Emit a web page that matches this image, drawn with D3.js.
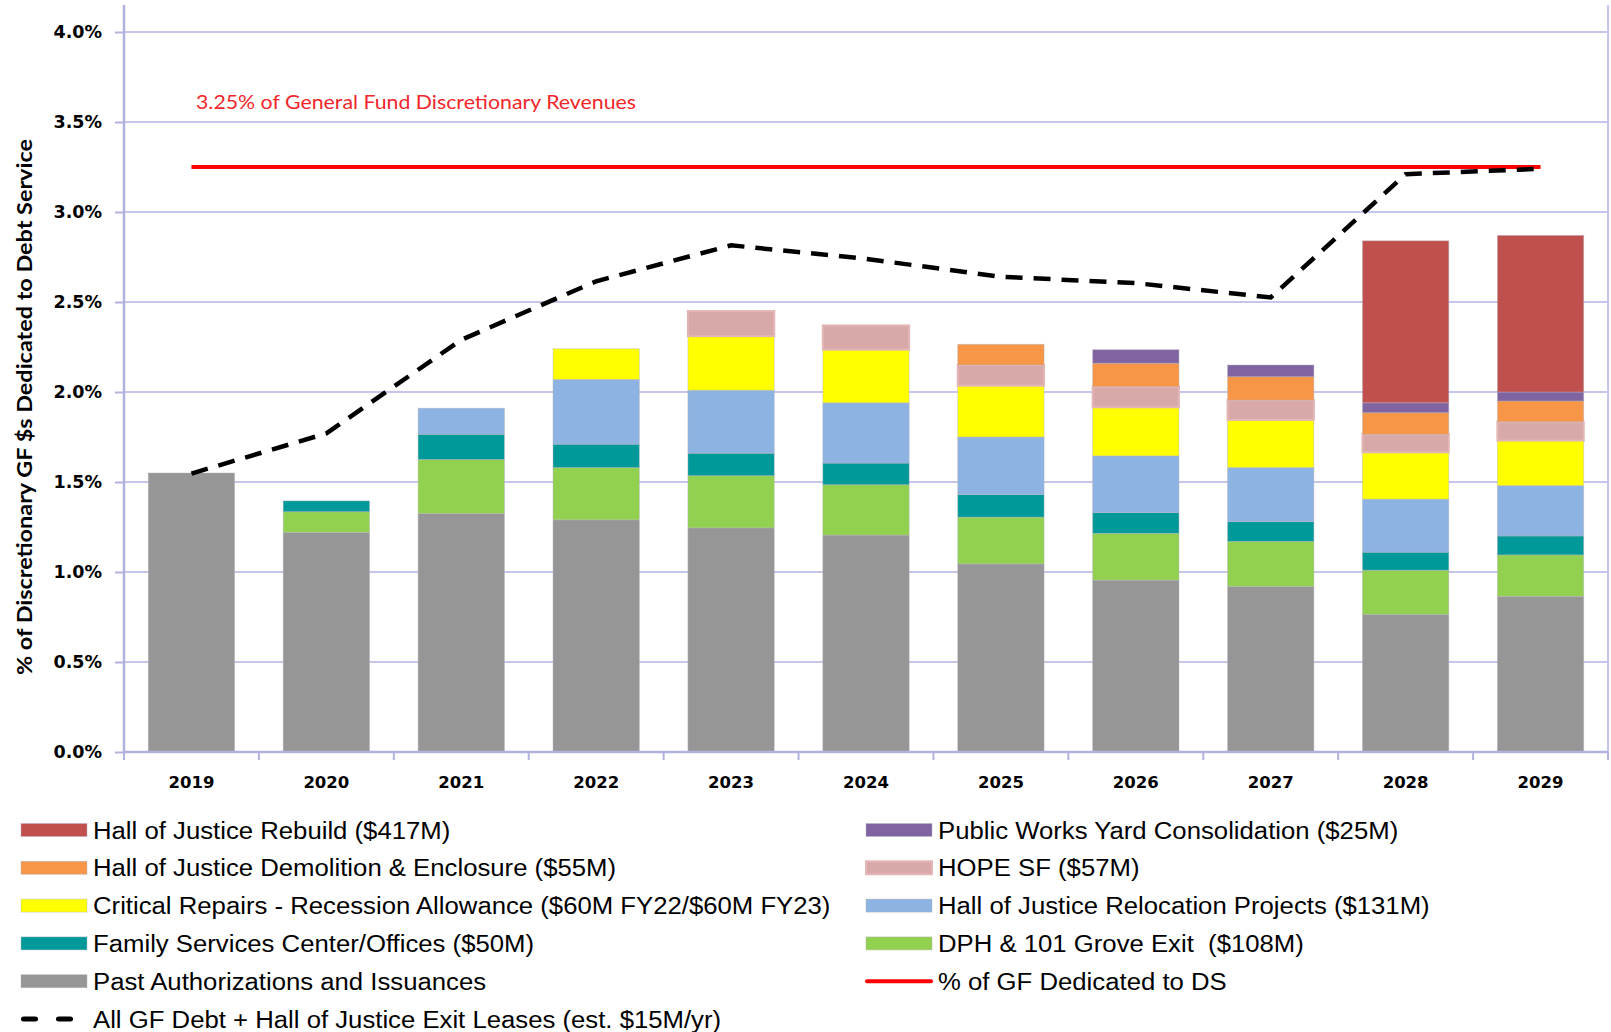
<!DOCTYPE html>
<html>
<head>
<meta charset="utf-8">
<script src="https://cdn.jsdelivr.net/npm/d3@7"></script>
<style>
  html, body { margin: 0; padding: 0; background: #ffffff; }
  svg { display: block; }
  .pre { white-space: pre; }
</style>
</head>
<body>
<svg id="chart" width="1611" height="1032"></svg>
<script>
// ---------- DATA ----------
const years = ["2019","2020","2021","2022","2023","2024","2025","2026","2027","2028","2029"];
const pastAuthorizations = [1.55, 1.22, 1.325, 1.29, 1.245, 1.205, 1.045, 0.955, 0.92, 0.765, 0.865];
const dphGroveExit       = [0, 0.115, 0.30, 0.29, 0.29, 0.28, 0.26, 0.26, 0.25, 0.245, 0.23];
const familyServices     = [0, 0.06, 0.14, 0.13, 0.125, 0.12, 0.125, 0.115, 0.11, 0.10, 0.105];
const hojRelocation      = [0, 0, 0.145, 0.36, 0.35, 0.335, 0.32, 0.315, 0.30, 0.295, 0.28];
const criticalRepairs    = [0, 0, 0, 0.17, 0.30, 0.295, 0.285, 0.27, 0.265, 0.26, 0.25];
const hopeSF             = [0, 0, 0, 0, 0.14, 0.135, 0.115, 0.115, 0.11, 0.10, 0.105];
const hojDemolition      = [0, 0, 0, 0, 0, 0, 0.115, 0.13, 0.13, 0.12, 0.115];
const publicWorksYard    = [0, 0, 0, 0, 0, 0, 0, 0.075, 0.065, 0.055, 0.05];
const hojRebuild         = [0, 0, 0, 0, 0, 0, 0, 0, 0, 0.90, 0.87];
const allGFDebt          = [1.547, 1.77, 2.29, 2.615, 2.815, 2.74, 2.64, 2.605, 2.525, 3.21, 3.24];
const gfLimit            = [3.25, 3.25, 3.25, 3.25, 3.25, 3.25, 3.25, 3.25, 3.25, 3.25, 3.25];
const yTicks = [0, 0.5, 1.0, 1.5, 2.0, 2.5, 3.0, 3.5, 4.0];

const seriesKeys   = ["past","dph","family","relocation","critical","hope","demolition","publicWorks","rebuild"];
const seriesValues = [pastAuthorizations, dphGroveExit, familyServices, hojRelocation, criticalRepairs, hopeSF, hojDemolition, publicWorksYard, hojRebuild];
const seriesLabels = [
  "Past Authorizations and Issuances",
  "DPH & 101 Grove Exit  ($108M)",
  "Family Services Center/Offices ($50M)",
  "Hall of Justice Relocation Projects ($131M)",
  "Critical Repairs - Recession Allowance ($60M FY22/$60M FY23)",
  "HOPE SF ($57M)",
  "Hall of Justice Demolition & Enclosure ($55M)",
  "Public Works Yard Consolidation ($25M)",
  "Hall of Justice Rebuild ($417M)"
];
const seriesColors = ["#969696","#92D050","#009999","#8DB3E2","#FFFF00","#D9A9A9","#F79646","#8064A2","#C0504D"];
const dashedLabel = "All GF Debt + Hall of Justice Exit Leases (est. $15M/yr)";
const redLabel = "% of GF Dedicated to DS";
const limitNote = "3.25% of General Fund Discretionary Revenues";
const yTitle = "% of Discretionary GF $s Dedicated to Debt Service";

// legend layout (series keys per column, top to bottom)
const legendLeft  = ["rebuild","demolition","critical","family","past","dashed"];
const legendRight = ["publicWorks","hope","relocation","dph","red"];

// ---------- CHART ----------
const svg = d3.select("#chart");
svg.append("rect").attr("width",1611).attr("height",1032).attr("fill","#fff");

const x = d3.scaleBand().domain(years).range([124, 1608]).paddingInner(0.36).paddingOuter(0.18);
const y = d3.scaleLinear().domain([0, 4]).range([752, 32]);
const plotTop = y(4.15);
const gridColor = "#C6C6EC";
const axisColor = "#B2B2DE";

// gridlines
svg.append("g").selectAll("line").data(yTicks).join("line")
  .attr("x1", 124).attr("x2", 1608)
  .attr("y1", d => y(d)).attr("y2", d => y(d))
  .attr("stroke", gridColor).attr("stroke-width", 2);

// right border
svg.append("line").attr("x1",1608).attr("x2",1608).attr("y1",plotTop).attr("y2",y(0))
  .attr("stroke", gridColor).attr("stroke-width", 2);

// stacked data
const table = years.map((yr, i) => {
  const o = { year: yr };
  seriesKeys.forEach((k, j) => o[k] = seriesValues[j][i]);
  return o;
});
const stack = d3.stack().keys(seriesKeys)(table);
const colorOf = d3.scaleOrdinal().domain(seriesKeys).range(seriesColors);

const barG = svg.append("g");
stack.forEach(layer => {
  barG.append("g").selectAll("rect")
    .data(layer.filter(d => d[1] - d[0] > 0))
    .join("rect")
    .attr("x", d => x(d.data.year))
    .attr("width", x.bandwidth())
    .attr("y", d => y(d[1]))
    .attr("height", d => y(d[0]) - y(d[1]))
    .attr("fill", colorOf(layer.key))
    .attr("stroke", layer.key === "hope" ? "#E3B7B6" : "rgba(180,180,190,0.55)")
    .attr("stroke-width", layer.key === "hope" ? 2 : 0.8);
});

// y axis
const yAxis = d3.axisLeft(y).tickValues(yTicks).tickSize(9).tickPadding(13)
  .tickFormat(d => d.toFixed(1) + "%");
const yg = svg.append("g").attr("transform", "translate(124,0)").call(yAxis);
yg.select(".domain").remove();
yg.selectAll(".tick line").attr("stroke", axisColor).attr("stroke-width", 2);
yg.selectAll(".tick text").attr("font-family", "'DejaVu Sans', Verdana, sans-serif")
  .attr("font-weight", "bold").attr("font-size", 17.5).attr("fill", "#000");
svg.append("line").attr("x1",124).attr("x2",124).attr("y1",plotTop).attr("y2",y(0)+2)
  .attr("stroke", axisColor).attr("stroke-width", 2.5);

// x axis
const xg = svg.append("g").attr("transform", `translate(0,${y(0)})`);
xg.append("line").attr("x1",124).attr("x2",1608).attr("stroke", axisColor).attr("stroke-width", 2.5);
const step = x.step();
xg.selectAll("line.tk").data(d3.range(years.length + 1)).join("line").attr("class","tk")
  .attr("x1", i => x(years[0]) - x.paddingOuter()*step + i*step)
  .attr("x2", i => x(years[0]) - x.paddingOuter()*step + i*step)
  .attr("y1", 0).attr("y2", 8).attr("stroke", axisColor).attr("stroke-width", 2);
xg.selectAll("text").data(years).join("text")
  .attr("x", d => x(d) + x.bandwidth()/2).attr("y", 36)
  .attr("text-anchor","middle")
  .attr("font-family", "'DejaVu Sans', Verdana, sans-serif").attr("font-weight","bold")
  .attr("font-size", 16.5).attr("fill","#000").text(d => d);

// red limit line
const cx = d => x(d) + x.bandwidth()/2;
svg.append("path").datum(years.map((yr,i) => [cx(yr), y(gfLimit[i])]))
  .attr("d", d3.line()).attr("stroke", "#FF0000").attr("stroke-width", 4).attr("fill","none");

// dashed line
svg.append("path").datum(years.map((yr,i) => [cx(yr), y(allGFDebt[i])]))
  .attr("d", d3.line()).attr("stroke", "#000").attr("stroke-width", 4.5)
  .attr("stroke-dasharray", "17 11").attr("fill","none");

// limit note
svg.append("text").attr("x", 196).attr("y", 109)
  .attr("font-family", "Lato, 'Open Sans', sans-serif").attr("font-size", 20)
  .attr("fill", "#F2262B").attr("textLength", 440).attr("lengthAdjust","spacingAndGlyphs")
  .text(limitNote);

// y title
svg.append("text").attr("transform", "translate(23,407) rotate(-90)")
  .attr("text-anchor","middle").attr("dominant-baseline","central")
  .attr("font-family", "Lato, 'Open Sans', sans-serif").attr("font-weight","bold")
  .attr("font-size", 21).attr("fill","#000")
  .attr("textLength", 536).attr("lengthAdjust","spacingAndGlyphs")
  .text(yTitle);

// legend
const rowY0 = 830, rowStep = 37.8;
function legendItem(key, col, row) {
  const sx = col === 0 ? 21 : 866;
  const tx = col === 0 ? 93 : 938;
  const cy = rowY0 + row * rowStep;
  const g = svg.append("g");
  let label;
  if (key === "dashed") {
    g.append("line").attr("x1", sx + 2.5).attr("x2", sx + 52).attr("y1", cy).attr("y2", cy)
      .attr("stroke","#000").attr("stroke-width",5).attr("stroke-linecap","round")
      .attr("stroke-dasharray","12 23");
    label = dashedLabel;
  } else if (key === "red") {
    g.append("line").attr("x1", sx + 1).attr("x2", sx + 65).attr("y1", cy).attr("y2", cy)
      .attr("stroke","#FF0000").attr("stroke-width",4).attr("stroke-linecap","round");
    label = redLabel;
  } else {
    const j = seriesKeys.indexOf(key);
    g.append("rect").attr("x", sx).attr("y", cy - 6.5).attr("width", 66).attr("height", 13)
      .attr("fill", seriesColors[j])
      .attr("stroke", key === "hope" ? "#E3B7B6" : "rgba(180,180,190,0.55)")
      .attr("stroke-width", key === "hope" ? 2 : 0.8);
    label = seriesLabels[j];
  }
  g.append("text").attr("class","pre")
    .attr("transform", `translate(${tx},${cy + 8.6}) scale(1.05,1)`)
    .attr("font-family", "'Liberation Sans', Arial, sans-serif").attr("font-size", 24.5)
    .attr("fill","#000").text(label);
}
legendLeft.forEach((k, i) => legendItem(k, 0, i));
legendRight.forEach((k, i) => legendItem(k, 1, i));
</script>
</body>
</html>
